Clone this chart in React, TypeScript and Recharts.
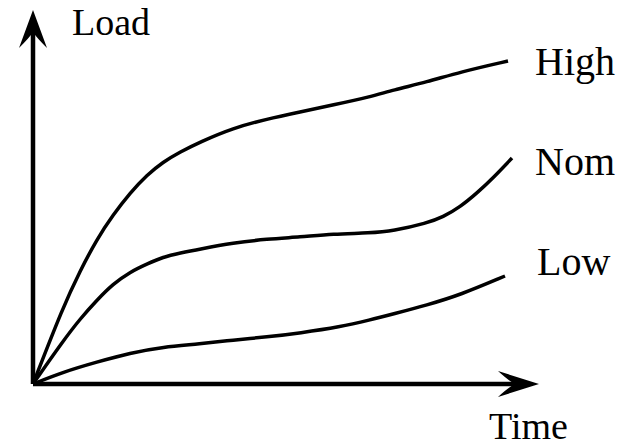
import React from 'react';
import { LineChart, Line, XAxis, YAxis, ReferenceDot, ReferenceLine } from 'recharts';

// Series (time and load in arbitrary units)
const highTime = [0, 30, 47, 64, 80, 97, 114, 130, 147, 167, 200, 234, 267, 300, 337, 360, 394, 427, 475];
const highLoad = [0, 77, 113, 145, 169, 191, 209, 222, 232, 242, 256, 265, 272, 279, 287, 294, 302, 312, 323];
const nomTime = [0, 30, 47, 64, 80, 97, 114, 130, 147, 167, 200, 234, 267, 300, 337, 360, 394, 410, 427, 444, 460, 479];
const nomLoad = [0, 43, 65, 84, 100, 112, 120, 127, 131, 135, 141, 145, 147, 150, 151, 153, 161, 167, 177, 191, 206, 226];
const lowTime = [0, 30, 64, 97, 130, 167, 200, 234, 267, 307, 337, 360, 394, 427, 472];
const lowLoad = [0, 12, 22, 31, 37, 40, 44, 47, 51, 57, 64, 70, 79, 89, 108];

const seriesNames = ['High', 'Nom', 'Low'];
const seriesLabelAt = [
  { x: 502, y: 309 },
  { x: 502, y: 209 },
  { x: 504, y: 109 },
];
const axisTitles = [
  { text: 'Load', x: 39, y: 349, size: 38 },
  { text: 'Time', x: 456, y: -55, size: 38 },
];
const X_MAX = 506;
const Y_MAX = 374;

const zip = (xs: number[], ys: number[]) => xs.map((x, i) => ({ x, y: ys[i] }));
const highData = zip(highTime, highLoad);
const nomData = zip(nomTime, nomLoad);
const lowData = zip(lowTime, lowLoad);

const FONT = '"Liberation Serif", "Times New Roman", serif';

const textShape = (text: string, size: number) => (p: any) => (
  <text x={p.cx} y={p.cy} fontFamily={FONT} fontSize={size} fill="#000" textAnchor="start">
    {text}
  </text>
);

const arrowRight = (p: any) => (
  <path
    d={`M ${p.cx} ${p.cy} L ${p.cx - 41} ${p.cy - 13} Q ${p.cx - 30} ${p.cy - 3} ${p.cx - 24} ${p.cy} Q ${p.cx - 30} ${p.cy + 3} ${p.cx - 41} ${p.cy + 13} Z`}
    fill="#000"
  />
);
const arrowUp = (p: any) => (
  <path
    d={`M ${p.cx} ${p.cy} L ${p.cx - 14} ${p.cy + 38} Q ${p.cx - 3} ${p.cy + 27} ${p.cx} ${p.cy + 22} Q ${p.cx + 3} ${p.cy + 27} ${p.cx + 14} ${p.cy + 38} Z`}
    fill="#000"
  />
);

export default function App() {
  return (
    <div style={{ width: 630, height: 448 }}>
      <style>{`html,body{margin:0;padding:0;overflow:hidden;background:#fff}`}</style>
      <LineChart width={630} height={448} margin={{ top: 10, right: 91, bottom: 64, left: 33 }}>
        <XAxis type="number" dataKey="x" domain={[0, X_MAX]} allowDataOverflow hide />
        <YAxis type="number" dataKey="y" domain={[0, Y_MAX]} allowDataOverflow hide />
        <ReferenceLine segment={[{ x: 0, y: 0 }, { x: X_MAX - 20, y: 0 }]} stroke="#000" strokeWidth={4.5} ifOverflow="visible" />
        <ReferenceLine segment={[{ x: 0, y: 0 }, { x: 0, y: Y_MAX - 20 }]} stroke="#000" strokeWidth={4.5} ifOverflow="visible" />
        <Line data={highData} dataKey="y" name="High" type="basis" stroke="#000" strokeWidth={3.5} dot={false} isAnimationActive={false} />
        <Line data={nomData} dataKey="y" name="Nom" type="basis" stroke="#000" strokeWidth={3.5} dot={false} isAnimationActive={false} />
        <Line data={lowData} dataKey="y" name="Low" type="basis" stroke="#000" strokeWidth={3.5} dot={false} isAnimationActive={false} />
        <ReferenceDot x={X_MAX} y={0} r={0} ifOverflow="visible" shape={arrowRight} />
        <ReferenceDot x={0} y={Y_MAX} r={0} ifOverflow="visible" shape={arrowUp} />
        {seriesNames.map((n, i) => (
          <ReferenceDot key={n} x={seriesLabelAt[i].x} y={seriesLabelAt[i].y} r={0} ifOverflow="visible" shape={textShape(n, 40)} />
        ))}
        {axisTitles.map((t) => (
          <ReferenceDot key={t.text} x={t.x} y={t.y} r={0} ifOverflow="visible" shape={textShape(t.text, t.size)} />
        ))}
      </LineChart>
    </div>
  );
}
